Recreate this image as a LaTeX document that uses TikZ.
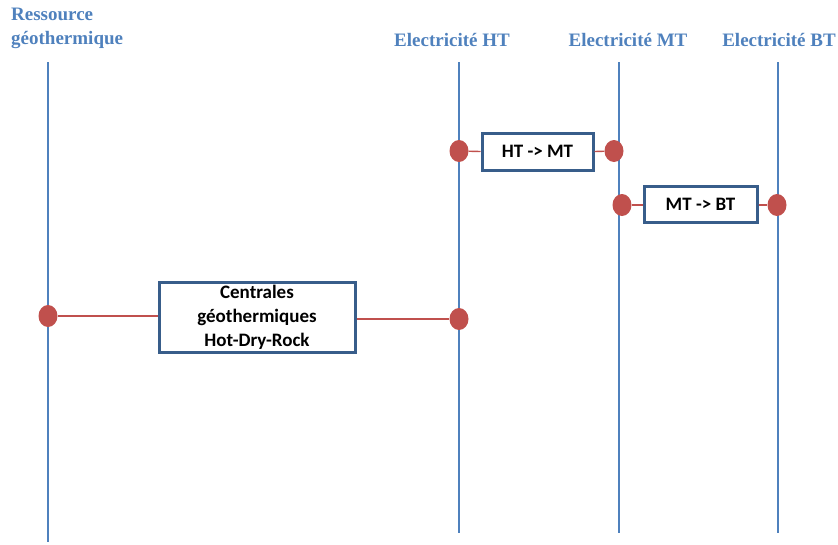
\documentclass[tikz,border=0pt]{standalone}
\usepackage{fontspec}
\setmainfont{Liberation Serif}
\newfontfamily\boxfont{Carlito}
\usetikzlibrary{shapes.geometric}
\definecolor{lineblue}{HTML}{4F81BD}
\definecolor{boxblue}{HTML}{385D8A}
\definecolor{dotred}{HTML}{C0504D}
\begin{document}
\begin{tikzpicture}[x=1pt,y=-1pt,
  axis/.style={draw=lineblue,line width=2.8pt},
  title/.style={text=lineblue,font=\bfseries\fontsize{19}{24}\selectfont,inner sep=0pt},
  dot/.style={ellipse,fill=dotred,minimum width=19pt,minimum height=22pt,inner sep=0pt},
  conv/.style={draw=boxblue,line width=3pt,fill=white,inner sep=0pt,font=\boxfont\bfseries\fontsize{19}{24}\selectfont,align=center},
  link/.style={draw=dotred,line width=1.4pt}]
\useasboundingbox (0,0) rectangle (838,544);
% axes
\coordinate (a1t) at (48,62); \coordinate (a1b) at (48,542);
\coordinate (a2t) at (459,62); \coordinate (a2b) at (459,533);
\coordinate (a3t) at (619,62); \coordinate (a3b) at (619,533);
\coordinate (a4t) at (778,62); \coordinate (a4b) at (778,533);
\draw[axis] (a1t) -- (a1b);
\draw[axis] (a2t) -- (a2b);
\draw[axis] (a3t) -- (a3b);
\draw[axis] (a4t) -- (a4b);
% titles
\node[title,anchor=west,align=left] (t1) at (11,28) {Ressource\\géothermique};
\node[title] (t2) at (452,40) {Electricité HT};
\node[title] (t3) at (628,40) {Electricité MT};
\node[title] (t4) at (779,40) {Electricité BT};
% boxes
\node[conv,minimum width=111pt,minimum height=37pt] (b1) at (537.5,151.5) {HT -> MT};
\node[conv,minimum width=113pt,minimum height=36pt] (b2) at (700.5,204) {MT -> BT};
\node[conv,minimum width=196pt,minimum height=70pt] (b3) at (257,317) {Centrales\\géothermiques\\Hot-Dry-Rock};
% dots
\node[dot] (d1) at (459,151) {};
\node[dot] (d2) at (614,151) {};
\node[dot] (d3) at (622,205) {};
\node[dot] (d4) at (777,205) {};
\node[dot] (d5) at (48,316) {};
\node[dot] (d6) at (459,319) {};
% links
\draw[link] (d1) -- (b1.west);
\draw[link] (b1.east) -- (d2);
\draw[link] (d3) -- (d3 -| b2.west);
\draw[link] (d4 -| b2.east) -- (d4);
\draw[link] (d5) -- (d5 -| b3.west);
\draw[link] (d6 -| b3.east) -- (d6);
\end{tikzpicture}
\end{document}
